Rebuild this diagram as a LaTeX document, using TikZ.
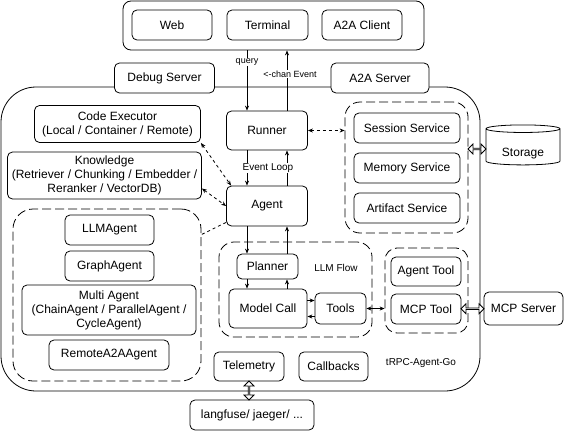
\documentclass[tikz,border=0pt]{standalone}
\usepackage{fontspec}
\setmainfont{Liberation Sans}
\usetikzlibrary{calc,positioning,arrows.meta,shapes.geometric,shapes.arrows}
\tikzset{box/.style={draw,fill=white,rounded corners=5pt,align=center,inner sep=1pt,
font=\fontsize{12}{14}\selectfont},grp/.style={draw,dash pattern=on 9pt off 4pt,
rounded corners=15pt},lbl/.style={inner sep=1pt,font=\fontsize{10}{12}\selectfont},
sz/.style 2 args={minimum width=#1pt,minimum height=#2pt},
fat/.style={double arrow,draw,fill=white,minimum width=10pt,inner sep=0pt,
double arrow head extend=2.5pt},dsh/.style={dash pattern=on 3pt off 3pt}}

\begin{document}
\begin{tikzpicture}[x=1pt,y=-1pt,line width=0.8pt,>={Stealth[length=5pt,width=4pt]}]
		\useasboundingbox (0,0) rectangle (565,431);
		% clients and servers
		\node[box,rounded corners=8pt,sz={301}{49}] (clients) at (273.5,25.5) {};
		\node[box,sz={80}{30}] (web) at (172,25) {Web};
		\node[box,sz={81}{30}] (term) at (267.5,25) {Terminal};
		\node[box,sz={80}{30}] (a2ac) at (362,25) {A2A Client};
		\node[draw,rounded corners=35pt,sz={479}{304}] (core) at (240.5,239) {};
		\node[box,sz={100}{30}] (debug) at (164.5,78) {Debug Server};
		\node[box,sz={98}{30}] (a2as) at (380,78) {A2A Server};
		% left column
		\node[box,sz={166}{37}] (code) at (117.5,124) {Code Executor\\(Local / Container / Remote)};
		\node[box,sz={194}{47}] (know) at (104.5,175.5) {Knowledge\\(Retriever / Chunking / Embedder /\\Reranker / VectorDB)};
		\node[grp,rounded corners=20pt,sz={188}{172}] (agrp) at (107,295) {};
		\node[box,sz={89}{30}] (llm) at (109.5,230) {LLMAgent};
		\node[box,sz={89}{30}] (graph) at (109.5,266) {GraphAgent};
		\node[box,sz={174}{50}] (multi) at (109,310) {Multi Agent\\(ChainAgent / ParallelAgent /\\CycleAgent)};
		\node[box,sz={120}{30}] (remote) at (109,355) {RemoteA2AAgent};
		% middle column
		\node[box,sz={81}{39}] (runner) at (267,130.5) {Runner};
		\node[box,sz={81}{40}] (agent) at (267,206) {Agent};
		\node[grp,sz={153}{95}] (flow) at (295.5,289.5) {};
		\node[box,sz={61}{25}] (plan) at (267.5,266.5) {Planner};
		\node[box,sz={78}{39}] (model) at (268,308.5) {Model Call};
		\node[box,sz={51}{31}] (tools) at (340.5,308.5) {Tools};
		\node[lbl] (flowlbl) at (336,268) {LLM Flow};
		\node[box,sz={70}{29}] (tele) at (249,366.5) {Telemetry};
		\node[box,sz={69}{29}] (cb) at (333.5,366.5) {Callbacks};
		\node[box,sz={124}{30}] (lang) at (252,415) {langfuse/ jaeger/ ...};
		\node[lbl] (trpc) at (421,363) {tRPC-Agent-Go};
		% right column
		\node[grp,sz={123}{131}] (svc) at (406.5,167.5) {};
		\node[box,sz={106}{30}] (sess) at (407,128) {Session Service};
		\node[box,sz={106}{30}] (mem) at (407,168) {Memory Service};
		\node[box,sz={106}{30}] (art) at (407,208) {Artifact Service};
		\node[draw,cylinder,shape border rotate=90,aspect=0.18,sz={74}{40},inner sep=0pt,
			font=\fontsize{12}{14}\selectfont] (store) at (523,147) {\raisebox{-6pt}[9pt][3pt]{Storage}};
		\node[grp,rounded corners=12pt,sz={83}{85}] (tgrp) at (426.5,290.5) {};
		\node[box,sz={70}{29}] (atool) at (426,271.5) {Agent Tool};
		\node[box,sz={70}{30}] (mcpt) at (426,309) {MCP Tool};
		\node[box,sz={79}{33}] (mcps) at (523.5,308.5) {MCP Server};
		% connectors
		\draw[->] ([xshift=-20pt]runner.north |- clients.south) -- ([xshift=-20pt]runner.north);
		\draw[->] ([xshift=20pt]runner.north) -- ([xshift=20pt]runner.north |- clients.south);
		\node[lbl,fill=white,font=\fontsize{9}{11}\selectfont] (query) at (247,62) {query};
		\node[lbl,fill=white,font=\fontsize{9}{11}\selectfont] (chan) at (290,74) {<-chan Event};
		\draw[->] ([xshift=-20pt]runner.south) -- ([xshift=-20pt]agent.north);
		\draw[->] ([xshift=20pt]agent.north) -- ([xshift=20pt]runner.south);
		\node[lbl,fill=white] (loop) at (268,168) {Event Loop};
		\draw[->] ([xshift=-20pt]agent.south) -- ([xshift=-20pt]agent.south |- plan.north);
		\draw[->] ([xshift=20pt]agent.south |- plan.north) -- ([xshift=20pt]agent.south);
		\draw[->] ([xshift=-20pt]agent.south |- plan.south) -- ([xshift=-20pt]agent.south |- model.north);
		\draw[->] ([xshift=20pt]agent.south |- model.north) -- ([xshift=20pt]agent.south |- plan.south);
		\draw[->] ([yshift=8pt]model.east) -- ([yshift=8pt]model.east -| tools.west);
		\draw[->] ([yshift=-8pt]tools.west) -- ([yshift=-8pt]tools.west -| model.east);
		\draw[<->] (tools.east) -- (tools.east -| tgrp.west);
		\draw[<->,dsh] (runner.east) -- (runner.east -| svc.west);
		\draw[<->,dsh] (code.south east) -- ([xshift=5pt]agent.north west);
		\draw[<->,dsh] ([yshift=-13pt]know.east) -- (agent.west);
		\draw[dsh] ([yshift=4pt]agent.south west) -- ([yshift=-26pt]agrp.north east);
		\node[fat,minimum height=18pt] (svcarr) at ($(svc.east |- 0,149)!0.5!(store.west |- 0,149)$) {};
		\node[fat,minimum height=23pt] (mcparr) at ($(mcpt.east)!0.5!(mcps.west)$) {};
		\node[fat,shape border rotate=90,minimum height=19pt] (telearr) at ($(tele.south)!0.5!(tele.south |- lang.north)$) {};
	\end{tikzpicture}
\end{document}
